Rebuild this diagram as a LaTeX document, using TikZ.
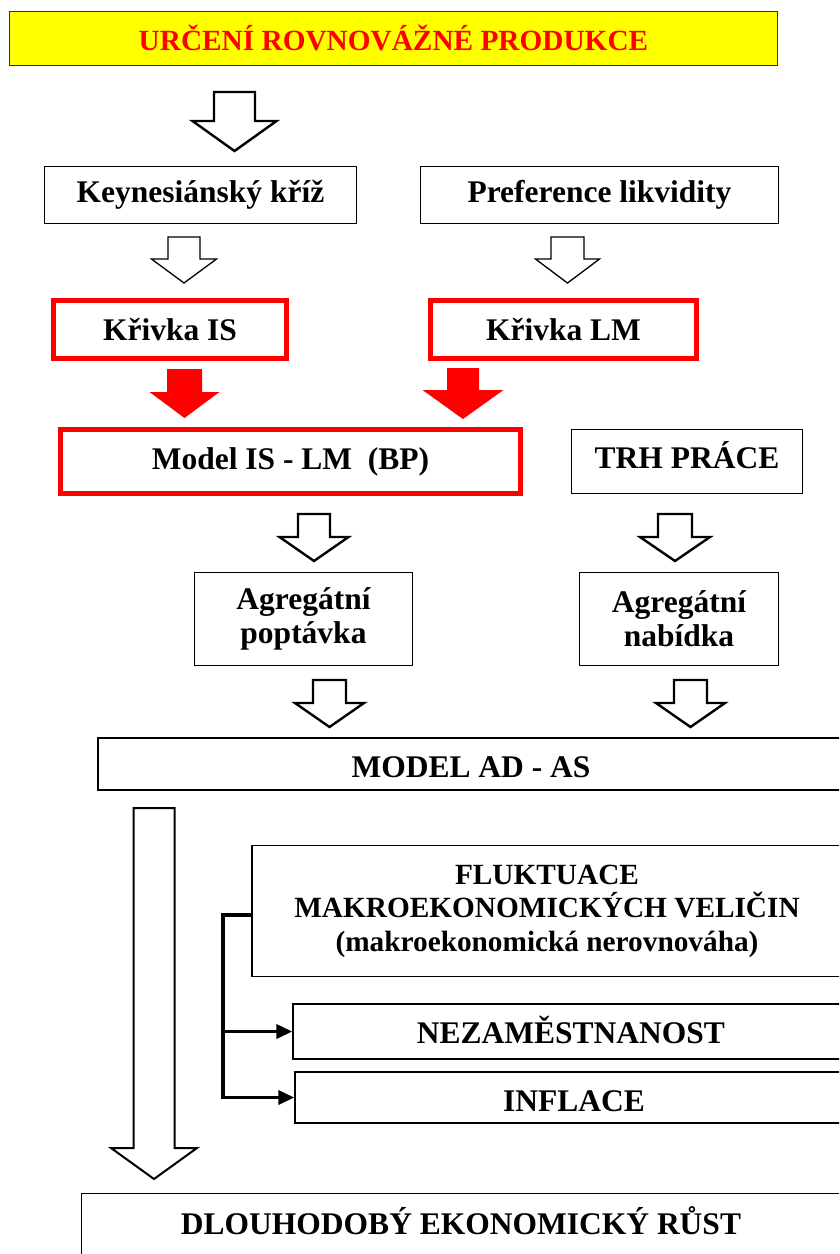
\documentclass[tikz,border=0pt]{standalone}
\usepackage{fontspec}
\setmainfont{Liberation Serif}
\usetikzlibrary{arrows.meta}
\definecolor{pred}{RGB}{255,0,0}
\definecolor{pyel}{RGB}{255,255,0}
\newcommand\blockarrow[7][]{%
  \draw[#1] ({#2-#6},-#3) -- ({#2+#6},-#3) -- ({#2+#6},-#4) -- ({#2+#7},-#4)
    -- (#2,-#5) -- ({#2-#7},-#4) -- ({#2-#6},-#4) -- cycle;}
\tikzset{
  box/.style={draw=black, line width=1.4pt, inner sep=0pt, align=center,
    font=\bfseries\fontsize{31.5}{34}\selectfont},
  redbox/.style={box, draw=pred, line width=5pt},
  smallfont/.style={font=\bfseries\fontsize{29.3}{33.5}\selectfont},
  harrow/.style={draw=black, fill=white, line width=2.4pt, line join=miter},
  tharrow/.style={harrow, line width=1.3pt},
  rarrow/.style={fill=pred, draw=none},
  bracket/.style={line width=3.6pt, line cap=rect},
  barrow/.style={bracket, line cap=butt, -{Triangle[length=16pt,width=14pt]}}
}
\begin{document}
\begin{tikzpicture}[x=1pt,y=1pt]
\useasboundingbox (0,0) rectangle (839,-1254);
\clip (0,0) rectangle (839,-1254);
\fill[white] (0,0) rectangle (839,-1254);
% boxes
\node[box, fill=pyel, draw=black!80, line width=1.4pt, text=pred, smallfont,
  minimum width=768, minimum height=54, text height=24, text depth=0pt] (title) at (393.5,-38.5)
  {URČENÍ ROVNOVÁŽNÉ PRODUKCE};
\node[box, minimum width=312, minimum height=57] (keyn) at (200.5,-195) {Keynesiánský kříž};
\node[box, minimum width=358, minimum height=57] (pref) at (599.5,-195) {Preference likvidity};
\node[redbox, minimum width=233, minimum height=58] (is) at (170,-329.5) {Křivka IS};
\node[redbox, minimum width=266, minimum height=58] (lm) at (563.5,-329.5) {Křivka LM};
\node[redbox, minimum width=460, minimum height=64] (islm) at (290.5,-461.5) {Model IS - LM\ \ (BP)};
\node[box, minimum width=231, minimum height=64, text height=14, text depth=0pt] (trh) at (687,-461.5) {TRH PRÁCE};
\node[box, minimum width=218, minimum height=93] (ad) at (303.5,-619) {Agregátní\\poptávka};
\node[box, minimum width=199, minimum height=93] (as) at (679,-619) {Agregátní\\nabídka};
\node[box, minimum width=746, minimum height=52, text height=27, text depth=0pt] (adas) at (471,-764) {MODEL AD - AS};
\node[box, smallfont, minimum width=590, minimum height=131] (fluk) at (547,-911)
  {FLUKTUACE\\MAKROEKONOMICKÝCH VELIČIN\\(makroekonomická nerovnováha)};
\node[box, minimum width=556, minimum height=55, text height=23, text depth=0pt] (nez) at (571,-1031.5) {NEZAMĚSTNANOST};
\node[box, minimum width=558, minimum height=51, text height=28, text depth=0pt] (infl) at (574,-1097.5) {INFLACE};
\node[box, draw=none, minimum width=758, minimum height=56, text height=24, text depth=0pt] (dlou) at (461,-1222) {DLOUHODOBÝ EKONOMICKÝ RŮST};
\draw[line width=1.4pt] (dlou.north east) -- (dlou.north west) -- ++(0,-80);
% block arrows
\blockarrow[harrow]{234.5}{92}{121}{151}{20.5}{42}
\blockarrow[tharrow]{184}{237}{259}{283}{16}{32.5}
\blockarrow[tharrow]{567.5}{237}{259}{283}{16.5}{32}
\blockarrow[rarrow]{184.5}{369}{392}{418}{17.5}{35}
\blockarrow[rarrow]{463}{368}{390}{419}{16}{40.5}
\blockarrow[harrow]{314}{514}{537}{561}{16}{34.5}
\blockarrow[harrow]{675}{514}{537}{561}{17}{35}
\blockarrow[harrow]{329.5}{680}{703}{727}{16.5}{34.5}
\blockarrow[harrow]{690.5}{680}{703}{727}{16.5}{34.5}
\blockarrow[harrow, line width=2pt]{154}{808}{1148}{1179}{20.5}{43}
% bracket
\coordinate (bk) at (223,-915);
\draw[bracket] (fluk.west |- bk) -- (bk) -- (bk |- infl.west);
\draw[barrow] (bk |- nez.west) -- (nez.west);
\draw[barrow] (bk |- infl.west) -- (infl.west);
\end{tikzpicture}
\end{document}
